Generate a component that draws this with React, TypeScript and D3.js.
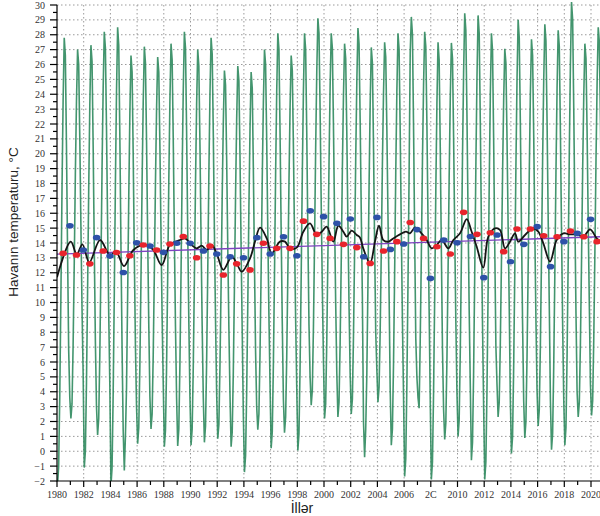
import React from "react";
import * as d3 from "d3";

// Monthly air temperature, °C (Jan..Dec), 1980–2020
const monthlyYears = d3.range(1980, 2021);
const monthlyTemps: number[][] = [
  [-2.2, -1.0, 3.8, 10.4, 17.6, 23.6, 27.8, 26.6, 20.6, 13.4, 6.8, 3.6],
  [2.2, 3.2, 7.2, 12.6, 18.6, 23.5, 27.0, 26.0, 21.0, 15.1, 9.6, 5.2],
  [-1.1, 0.0, 4.6, 10.8, 17.6, 23.3, 27.3, 26.2, 20.5, 13.7, 7.4, 3.0],
  [1.1, 2.2, 6.5, 12.5, 19.0, 24.4, 28.2, 27.1, 21.7, 15.2, 9.2, 4.4],
  [-2.3, -1.1, 3.9, 10.6, 18.0, 24.2, 28.5, 27.3, 21.1, 13.7, 6.9, 1.4],
  [-1.3, 1.0, 4.3, 10.4, 17.1, 22.7, 26.6, 25.5, 19.9, 13.2, 7.1, 3.0],
  [0.5, 1.6, 5.8, 11.7, 18.1, 23.5, 27.2, 26.1, 20.8, 14.4, 8.5, 3.7],
  [1.5, 2.5, 6.5, 12.0, 18.0, 23.0, 26.5, 25.5, 20.5, 14.5, 9.0, 4.5],
  [0.3, 1.4, 5.7, 11.7, 18.2, 23.6, 27.4, 26.3, 20.9, 14.4, 8.4, 3.6],
  [0.35, 1.5, 5.9, 12.0, 18.7, 24.3, 28.2, 27.1, 21.5, 14.8, 8.7, 3.7],
  [0.4, 1.5, 5.7, 11.6, 18.0, 23.3, 27.0, 25.9, 20.6, 14.2, 8.4, 3.6],
  [0.6, 1.7, 6.0, 12.0, 18.6, 24.0, 27.8, 26.7, 21.3, 14.7, 8.8, 3.9],
  [0.85, 1.8, 5.8, 11.2, 17.2, 22.1, 25.6, 24.6, 19.7, 13.7, 8.3, 3.8],
  [0.3, 1.3, 5.4, 11.1, 17.2, 22.3, 25.9, 24.9, 19.8, 13.6, 8.0, 2.4],
  [-1.4, -0.3, 4.0, 9.9, 16.4, 21.7, 25.5, 24.4, 19.0, 12.6, 6.7, 3.0],
  [1.45, 2.5, 6.6, 12.2, 18.3, 23.4, 27.0, 26.0, 20.9, 14.7, 9.1, 4.5],
  [0.2, 1.3, 5.8, 11.9, 18.6, 24.2, 28.1, 27.0, 21.4, 14.7, 8.6, 3.5],
  [1.25, 2.3, 6.3, 11.9, 18.0, 23.1, 26.6, 25.6, 20.5, 14.4, 8.9, 4.3],
  [0.05, 1.2, 5.7, 11.8, 18.6, 24.2, 28.1, 27.0, 21.4, 14.6, 8.5, 5.0],
  [3.1, 4.1, 8.3, 14.0, 20.3, 25.5, 29.1, 28.1, 22.9, 16.6, 10.9, 6.2],
  [2.2, 3.2, 7.4, 13.1, 19.3, 24.5, 28.1, 27.1, 21.9, 15.7, 10.0, 5.3],
  [2.3, 3.3, 7.3, 12.8, 18.9, 23.9, 27.4, 26.4, 21.4, 15.4, 9.8, 5.3],
  [2.5, 3.5, 7.7, 13.4, 19.6, 24.8, 28.45, 27.4, 22.2, 16.0, 10.3, 2.0],
  [-0.4, 1.5, 5.2, 11.2, 17.8, 23.3, 27.15, 26.1, 20.5, 13.9, 8.0, 5.5],
  [3.3, 4.3, 8.1, 13.5, 19.3, 24.1, 27.5, 26.5, 21.7, 15.9, 10.6, 4.2],
  [0.4, 1.5, 5.9, 12.0, 18.7, 24.2, 28.1, 27.0, 21.5, 14.8, 8.7, 3.7],
  [-1.7, -0.5, 4.5, 11.3, 18.7, 26.8, 29.2, 28.0, 21.8, 14.4, 7.6, 5.0],
  [3.6, 2.9, 7.5, 13.2, 19.5, 24.6, 28.2, 27.2, 22.0, 15.5, 9.5, 3.5],
  [-1.9, -0.7, 4.0, 10.4, 17.5, 23.4, 27.5, 26.3, 20.4, 13.4, 6.9, 2.8],
  [0.8, 1.9, 6.1, 12.0, 18.4, 23.7, 27.45, 26.4, 21.1, 14.7, 8.8, 4.0],
  [1.0, 2.1, 6.7, 13.0, 19.8, 25.5, 29.45, 28.3, 22.6, 15.8, 9.5, 4.4],
  [-0.6, 0.6, 5.4, 12.0, 19.1, 25.1, 29.3, 28.1, 22.1, 15.0, 8.4, 3.0],
  [-1.9, -0.7, 4.1, 10.7, 17.9, 23.9, 28.1, 26.9, 20.9, 13.7, 7.1, 4.5],
  [2.3, 3.3, 7.3, 12.7, 18.6, 23.6, 27.05, 26.1, 21.1, 15.2, 9.7, 3.5],
  [-0.15, 1.0, 5.7, 12.1, 19.1, 25.0, 29.0, 27.8, 22.0, 15.0, 8.6, 3.4],
  [0.9, 2.0, 6.3, 12.2, 18.6, 24.0, 27.7, 26.6, 21.3, 14.8, 8.9, 4.1],
  [1.7, 2.8, 7.1, 13.0, 19.5, 24.9, 28.7, 27.6, 22.2, 15.7, 9.8, 3.5],
  [0.1, 1.2, 5.7, 12.0, 18.7, 24.4, 28.3, 27.2, 21.5, 14.8, 8.6, 3.5],
  [0.4, 1.6, 6.4, 12.9, 20.1, 26.0, 30.2, 29.0, 23.0, 15.9, 9.3, 4.0],
  [2.3, 3.3, 7.3, 12.8, 18.9, 23.9, 27.4, 26.4, 21.4, 15.4, 9.8, 4.5],
  [2.4, 3.4, 7.6, 13.4, 19.6, 24.8, 28.5, 27.5, 22.2, 16.0, 10.2, 5.5],
];

// Red points (annual values), plotted mid-year
const redYears = d3.range(1980, 2021);
const redValues = [
  13.3, 13.19, 12.6, 13.46, 13.36, 13.14, 13.87, 13.53, 13.93, 14.43, 13.01,
  13.8, 11.85, 12.6, 12.19, 13.98, 13.64, 13.64, 15.47, 14.58, 14.31, 13.91,
  13.69, 12.63, 13.46, 14.09, 15.38, 14.31, 13.75, 13.26, 16.06, 14.58, 14.69,
  13.42, 14.94, 14.94, 14.49, 14.42, 14.81, 14.42, 14.09,
];

// Blue points, plotted at year boundaries
const blueYears = d3.range(1981, 2021);
const blueValues = [
  15.16, 13.53, 14.36, 13.12, 12.02, 14.02, 13.8, 13.37, 13.98, 13.98, 13.46,
  13.26, 13.08, 13.01, 14.36, 13.26, 14.42, 13.14, 16.17, 15.77, 15.32, 15.61,
  13.08, 15.72, 13.57, 13.93, 14.9, 11.62, 14.2, 14.02, 14.43, 11.67, 14.54,
  12.74, 13.91, 15.1, 12.41, 14.09, 14.65, 15.59,
];

// Smoothed curve (black)
const smoothTimes = [
  1980.0, 1981.03, 1981.48, 1981.9, 1982.42, 1983.22, 1983.97, 1984.42, 1985.02,
  1985.72, 1986.59, 1987.21, 1987.84, 1988.46, 1989.21, 1989.59, 1990.09, 1990.46,
  1990.84, 1991.21, 1991.59, 1991.96, 1992.46, 1993.09, 1993.46, 1993.84, 1994.46,
  1994.83, 1995.21, 1995.71, 1996.08, 1996.7, 1997.08, 1997.45, 1997.96, 1998.45,
  1998.95, 1999.45, 1999.83, 2000.2, 2000.7, 2001.07, 2001.45, 2001.7, 2002.07,
  2002.45, 2002.7, 2002.94, 2003.45, 2003.82, 2004.12, 2004.44, 2004.82, 2005.19,
  2005.69, 2006.14, 2006.44, 2006.82, 2007.19, 2007.69, 2008.07, 2008.44, 2008.82,
  2009.31, 2009.69, 2010.19, 2010.69, 2011.06, 2011.44, 2011.93, 2012.31, 2012.81,
  2013.18, 2013.56, 2013.93, 2014.31, 2014.55, 2015.06, 2015.68, 2016.05, 2016.43,
  2016.93, 2017.43, 2017.93, 2018.43, 2018.93, 2019.43, 2019.93, 2020.43, 2020.7,
];
const smoothValues = [
  11.7, 14.09, 13.24, 13.91, 12.7, 14.2, 13.19, 13.42, 12.45,
  13.53, 13.87, 13.53, 12.52, 13.87, 14.2, 14.31, 13.87, 13.64,
  13.82, 13.53, 13.87, 13.3, 12.2, 13.08, 12.63, 12.07, 12.97,
  14.09, 15.03, 14.31, 13.3, 14.09, 14.09, 13.64, 13.69, 14.76,
  15.32, 14.54, 14.76, 15.1, 14.09, 15.16, 14.76, 14.43, 14.83,
  14.54, 14.36, 13.64, 12.63, 14.09, 15.16, 14.2, 14.09, 14.31,
  14.58, 14.76, 14.65, 15.05, 14.76, 14.2, 13.64, 13.87, 14.2,
  13.64, 14.2, 14.65, 15.61, 14.76, 13.75, 12.34, 14.43, 14.99,
  14.88, 13.64, 14.09, 14.65, 14.09, 14.54, 14.99, 14.76, 13.98,
  12.75, 14.2, 14.65, 14.58, 14.58, 14.43, 14.92, 14.31, 14.1,
];

// Linear trend (purple)
const trendTimes = [1980, 2020.7];
const trendValues = [13.25, 14.42];

const yTicks = d3.range(-2, 31);
const xTickYears = d3.range(1980, 2021, 2);
const xTickLabels = [
  "1980", "1982", "1984", "1986", "1988", "1990", "1992", "1994", "1996", "1998",
  "2000", "2002", "2004", "2006", "2C", "2010", "2012", "2014", "2016", "2018", "2020",
];
const yTitle = "Havanın temperaturu, °C";
const xTitle = "İllər";

export default function App() {
  const W = 600;
  const H = 516;
  const left = 57;
  const bottom = 481;
  const x = d3.scaleLinear().domain([1980, 2020]).range([left, 591]);
  const y = d3.scaleLinear().domain([-2, 30]).range([bottom, 5]);

  const monthly: [number, number][] = [];
  monthlyYears.forEach((yr, i) => {
    monthlyTemps[i].forEach((v, m) => monthly.push([yr + (m + 0.5) / 12, v]));
  });

  const lineGen = d3
    .line<[number, number]>()
    .x((d) => x(d[0]))
    .y((d) => y(d[1]));
  const smoothGen = d3
    .line<[number, number]>()
    .x((d) => x(d[0]))
    .y((d) => y(d[1]))
    .curve(d3.curveCatmullRom.alpha(0.5));

  const smoothData: [number, number][] = smoothTimes.map((t, i) => [t, smoothValues[i]]);
  const trendData: [number, number][] = trendTimes.map((t, i) => [t, trendValues[i]]);

  const serif = "'Liberation Serif', 'DejaVu Serif', serif";
  const sans = "'Liberation Sans', Arial, sans-serif";

  const minorY = d3.range(-1.5, 30, 1);
  const allYears = d3.range(1980, 2021);

  return (
    <svg
      width={W}
      height={H}
      style={{ position: "absolute", left: 0, top: 0, background: "#fff" }}
    >
      <defs>
        <clipPath id="plot">
          <rect x={left} y={0} width={W - left} height={bottom} />
        </clipPath>
      </defs>
      <g stroke="#9a9a9a" strokeWidth={1} strokeDasharray="1.5,2.5">
        {yTicks
          .filter((t) => t > -2)
          .map((t) => (
            <line key={"gy" + t} x1={left} x2={W} y1={y(t)} y2={y(t)} />
          ))}
        {xTickYears
          .filter((t) => t > 1980)
          .map((t) => (
            <line key={"gx" + t} x1={x(t)} x2={x(t)} y1={y(30)} y2={bottom} />
          ))}
      </g>
      <g clipPath="url(#plot)">
        <path
          d={lineGen(monthly) || ""}
          fill="none"
          stroke="#2f8a5e"
          strokeWidth={1.6}
          strokeOpacity={0.9}
        />
        <path
          d={lineGen(trendData) || ""}
          fill="none"
          stroke="#7d43c0"
          strokeWidth={1.4}
        />
        <path
          d={smoothGen(smoothData) || ""}
          fill="none"
          stroke="#151515"
          strokeWidth={1.8}
        />
        {blueYears.map((yr, i) => (
          <ellipse
            key={"b" + yr}
            cx={x(yr - 0.03)}
            cy={y(blueValues[i])}
            rx={3.8}
            ry={2.8}
            fill="#2d51a8"
          />
        ))}
        {redYears.map((yr, i) => (
          <ellipse
            key={"r" + yr}
            cx={x(yr + 0.46)}
            cy={y(redValues[i])}
            rx={3.8}
            ry={2.8}
            fill="#e8242c"
          />
        ))}
      </g>
      <g stroke="#000" strokeWidth={1.2}>
        <line x1={left} x2={left} y1={y(30)} y2={bottom + 0.5} />
        <line x1={left} x2={W} y1={bottom} y2={bottom} />
        {yTicks.map((t) => (
          <line key={"ty" + t} x1={left - 7} x2={left} y1={y(t)} y2={y(t)} />
        ))}
        {minorY.map((t) => (
          <line key={"my" + t} x1={left - 4} x2={left} y1={y(t)} y2={y(t)} />
        ))}
        {allYears.map((t) => (
          <line
            key={"tx" + t}
            x1={x(t)}
            x2={x(t)}
            y1={bottom}
            y2={bottom + (t % 2 === 0 ? 6 : 4)}
          />
        ))}
      </g>
      <g fontFamily={serif} fontSize={10} fill="#333">
        {yTicks.map((t) => (
          <text key={"ly" + t} x={45} y={y(t)} dy="0.35em" textAnchor="end">
            {t < 0 ? "\u2212" + Math.abs(t) : String(t)}
          </text>
        ))}
        {xTickYears.map((t, i) => (
          <text key={"lx" + t} x={x(t)} y={498} textAnchor="middle">
            {xTickLabels[i]}
          </text>
        ))}
      </g>
      <text
        x={302}
        y={513}
        textAnchor="middle"
        fontFamily={sans}
        fontSize={14}
        fill="#222"
      >
        {xTitle}
      </text>
      <text
        transform={`translate(18,222) rotate(-90)`}
        textAnchor="middle"
        fontFamily={sans}
        fontSize={13.5}
        fill="#222"
      >
        {yTitle}
      </text>
    </svg>
  );
}
